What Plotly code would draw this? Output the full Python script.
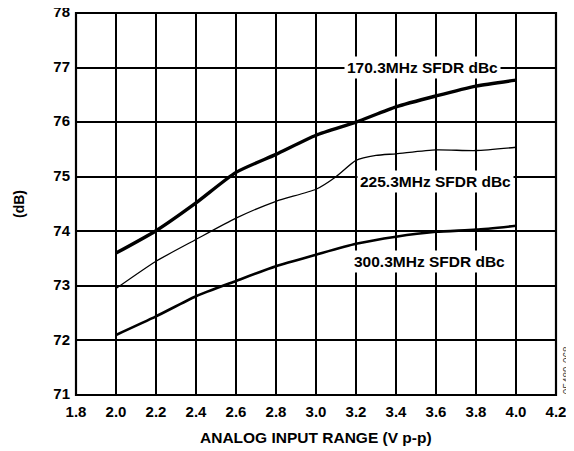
import plotly.graph_objects as go

x_vals = [2.0, 2.2, 2.4, 2.6, 2.8, 3.0, 3.2, 3.4, 3.6, 3.8, 4.0]
sfdr_170 = [73.60, 74.01, 74.52, 75.08, 75.41, 75.76, 76.00, 76.28, 76.48, 76.66, 76.77]
x_225 = [2.0, 2.2, 2.4, 2.6, 2.8, 3.0, 3.1, 3.2, 3.3, 3.4, 3.6, 3.8, 4.0]
sfdr_225 = [72.95, 73.45, 73.85, 74.24, 74.55, 74.77, 75.00, 75.30, 75.39, 75.42, 75.49, 75.48, 75.54]
sfdr_300 = [72.10, 72.44, 72.81, 73.09, 73.36, 73.57, 73.77, 73.90, 73.99, 74.03, 74.10]

labels = ["170.3MHz SFDR dBc", "225.3MHz SFDR dBc", "300.3MHz SFDR dBc"]
label_pos = [(3.53, 77.0), (3.595, 74.92), (3.565, 73.44)]

FONT = "Liberation Sans, Arial, sans-serif"

fig = go.Figure()
fig.add_trace(go.Scatter(x=x_vals, y=sfdr_170, mode="lines",
                         line=dict(color="black", width=3.4, shape="spline", smoothing=0.6)))
fig.add_trace(go.Scatter(x=x_225, y=sfdr_225, mode="lines",
                         line=dict(color="black", width=1.3, shape="spline", smoothing=0.6)))
fig.add_trace(go.Scatter(x=x_vals, y=sfdr_300, mode="lines",
                         line=dict(color="black", width=2.6, shape="spline", smoothing=0.6)))

for txt, (ax, ay) in zip(labels, label_pos):
    fig.add_annotation(x=ax, y=ay, text="<b>%s</b>" % txt, showarrow=False,
                       font=dict(family=FONT, size=15.5, color="black"),
                       bgcolor="white", borderpad=2)

# axis titles as paper annotations
fig.add_annotation(x=0.5, y=0, xref="paper", yref="paper", yanchor="middle", yshift=-42,
                   text="<b>ANALOG INPUT RANGE (V p-p)</b>", showarrow=False,
                   font=dict(family=FONT, size=15.5, color="black"))
fig.add_annotation(x=0, y=0.5, xref="paper", yref="paper", xanchor="center", xshift=-57,
                   text="<b>(dB)</b>", showarrow=False, textangle=-90,
                   font=dict(family=FONT, size=14, color="black"))
fig.add_annotation(x=1, y=0.065, xref="paper", yref="paper", xanchor="center", yanchor="middle",
                   xshift=11, text="05489-068", showarrow=False, textangle=-90,
                   font=dict(family=FONT, size=10, color="#444"))

# plot frame
fig.add_shape(type="rect", xref="paper", yref="paper", x0=0, x1=1, y0=0, y1=1,
              line=dict(color="black", width=2.2), layer="above")

# page body has an 8px default margin; compensate so the plot lands where the reference has it
fig.update_layout(
    width=566, height=443,
    margin=dict(l=68, r=18, t=5, b=56, autoexpand=False),
    paper_bgcolor="white", plot_bgcolor="white",
    showlegend=False,
    font=dict(family=FONT, color="black"),
)
fig.update_xaxes(range=[1.8, 4.2], dtick=0.2, tick0=1.8, tickformat=".1f",
                 showgrid=True, gridcolor="black", gridwidth=1.5,
                 showline=False, zeroline=False,
                 ticks="outside", ticklen=3, tickcolor="rgba(0,0,0,0)",
                 tickfont=dict(family=FONT, size=15), automargin=False,
                 ticklabeloverflow="allow",
                 tickprefix="<b>", ticksuffix="</b>")
fig.update_yaxes(range=[71, 78], dtick=1,
                 showgrid=True, gridcolor="black", gridwidth=1.5,
                 showline=False, zeroline=False,
                 ticks="outside", ticklen=2, tickcolor="rgba(0,0,0,0)",
                 tickfont=dict(family=FONT, size=15), automargin=False,
                 ticklabeloverflow="allow", ticklabelshift=-1,
                 tickprefix="<b>", ticksuffix="</b>")

fig.write_html("out.html")
